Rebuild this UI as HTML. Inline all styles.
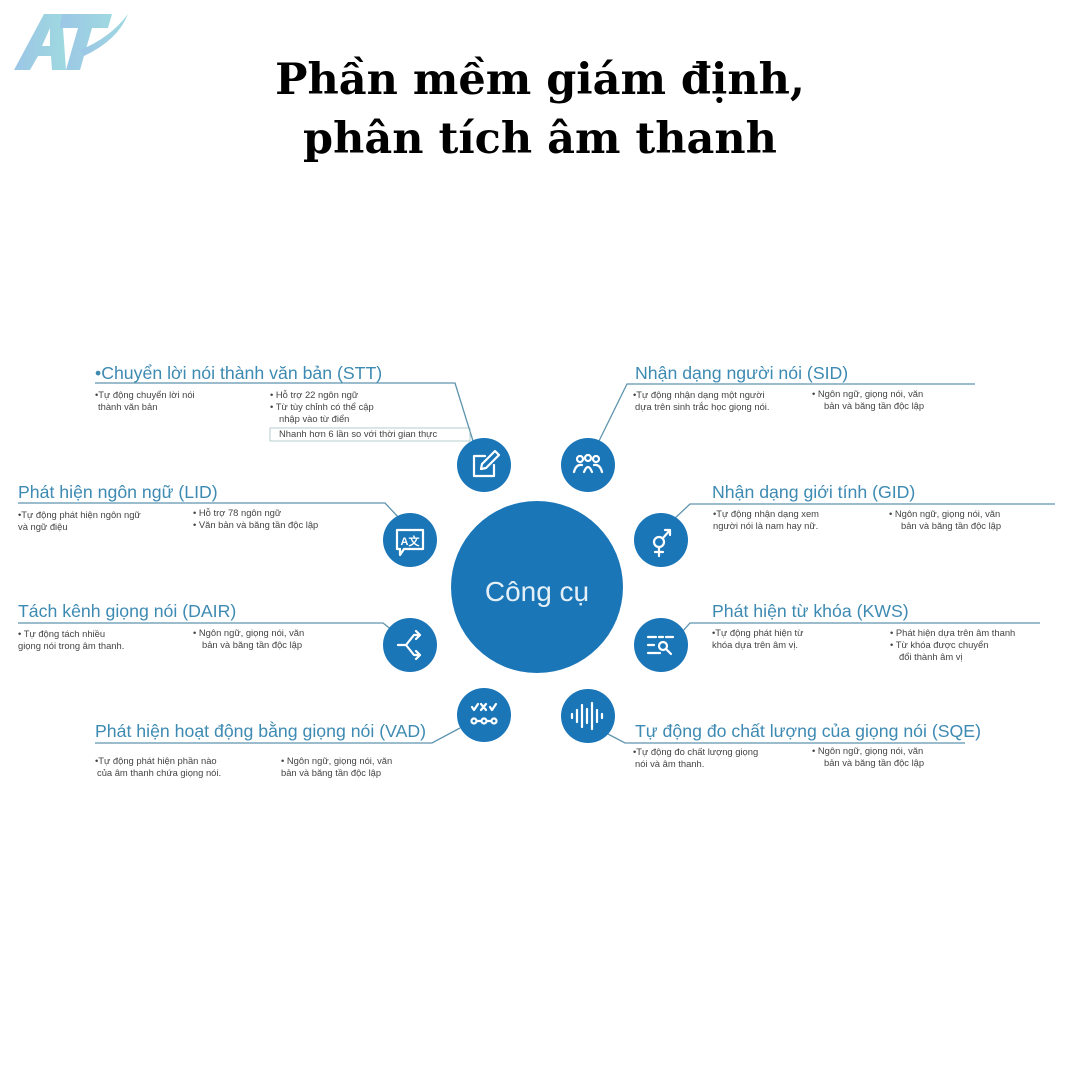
<!DOCTYPE html>
<html><head><meta charset="utf-8"><style>
html,body{margin:0;padding:0;background:#fff;}
svg{display:block}
.t{font-family:"Liberation Sans",sans-serif;fill:#3d8ab3;font-size:17.7px}
.s{font-family:"Liberation Sans",sans-serif;fill:#444;font-size:9.4px}
.h{font-family:"DejaVu Serif","Liberation Serif",serif;font-weight:bold;font-size:43px;fill:#000}
.ln{stroke:#5d94ad;stroke-width:1.3;fill:none}
.ic{stroke:#fff;stroke-width:2.2;fill:none;stroke-linecap:round;stroke-linejoin:round}
</style></head><body>
<svg width="1080" height="1080" viewBox="0 0 1080 1080" xmlns="http://www.w3.org/2000/svg">
<defs><linearGradient id="g" x1="0" x2="1"><stop offset="0" stop-color="#9cc6e6"/><stop offset="1" stop-color="#9ed9e0"/></linearGradient></defs>
<!-- logo -->
<polygon points="14,70 44,14 62,14 66,70 52,70 51,56 38,56 30,70" fill="url(#g)"/>
<polygon points="42,46 50,46 50,28" fill="#fff"/>
<polygon points="62,14 112,14 108,28 92,28 80,70 66,70 78,28 60,28" fill="url(#g)"/>
<path d="M80,50 Q110,38 128,14 Q118,40 84,56 Z" fill="url(#g)"/>
<!-- title -->
<text class="h" x="540" y="94" text-anchor="middle">Phần mềm giám định,</text>
<text class="h" x="540" y="153" text-anchor="middle">phân tích âm thanh</text>

<!-- connectors -->
<path class="ln" d="M95,383 L455,383 L473,441"/>
<path class="ln" d="M18,503 L385,503 L400,519"/>
<path class="ln" d="M18,623 L383,623 L392,630"/>
<path class="ln" d="M95,743 L432,743 L460,728"/>
<path class="ln" d="M975,384 L627,384 L598,443"/>
<path class="ln" d="M1055,504 L690,504 L672,521"/>
<path class="ln" d="M1040,623 L690,623 L682,632"/>
<path class="ln" d="M965,743 L625,743 L606,733"/>
<rect x="270" y="428" width="200" height="13" fill="none" stroke="#8aa" stroke-width="0.6"/>

<!-- circles -->
<circle cx="537" cy="587" r="86" fill="#1b76b8"/>
<text x="537" y="601" text-anchor="middle" font-family="Liberation Sans,sans-serif" font-size="28" fill="#e4f0f8">Công cụ</text>
<g fill="#1b76b8">
<circle cx="484" cy="465" r="27"/><circle cx="588" cy="465" r="27"/>
<circle cx="410" cy="540" r="27"/><circle cx="661" cy="540" r="27"/>
<circle cx="410" cy="645" r="27"/><circle cx="661" cy="645" r="27"/>
<circle cx="484" cy="715" r="27"/><circle cx="588" cy="716" r="27"/>
</g>
<!-- icons -->
<path class="ic" d="M485,456 L474,456 L474,476 L494,476 L494,465"/><path class="ic" d="M481,469 L482,464 L495,451 L499,455 L486,468 Z"/>
<g class="ic" stroke-width="1.8"><circle cx="580" cy="459" r="3"/><circle cx="588" cy="458" r="3"/><circle cx="596" cy="459" r="3"/><path d="M574,472 Q576,464 582,465 M584,472 Q588,462 592,472 M602,472 Q600,464 594,465"/></g>
<g class="ic" stroke-width="1.8"><path d="M397,530 L423,530 L423,549 L404,549 L400,555 L400,549 L397,549 Z"/></g>
<text x="410" y="545" text-anchor="middle" font-family="Liberation Sans,sans-serif" font-size="11" font-weight="bold" fill="#fff">A文</text>
<g class="ic" stroke-width="2"><circle cx="659" cy="542" r="5"/><path d="M659,547 L659,556 M655,552 L663,552 M663,538 L670,530 M665,530 L670,530 L670,535"/></g>
<g class="ic"><path d="M398,645 L406,645 L414,635 L420,635 M406,645 L414,655 L420,655 M416,631 L420,635 L416,639 M416,651 L420,655 L416,659"/></g>
<g class="ic" stroke-width="1.6"><path d="M648,637 L656,637 M659,637 L663,637 M666,637 L673,637 M648,645 L654,645 M648,653 L660,653"/><circle cx="663" cy="646" r="4"/><path d="M666,649 L671,654"/></g>
<g class="ic" stroke-width="1.6"><path d="M472,707 L474,710 L478,704 M481,704 L486,710 M486,704 L481,710 M490,707 L492,710 L496,704"/><circle cx="474" cy="721" r="2.5"/><circle cx="484" cy="721" r="2.5"/><circle cx="494" cy="721" r="2.5"/><path d="M476.5,721 L481.5,721 M486.5,721 L491.5,721"/></g>
<g class="ic" stroke-width="2"><path d="M572,714 L572,718 M577,710 L577,722 M582,705 L582,727 M587,709 L587,723 M592,703 L592,729 M597,710 L597,722 M602,714 L602,718"/></g>

<!-- titles -->
<text class="t" x="95" y="379">•Chuyển lời nói thành văn bản (STT)</text>
<text class="t" x="18" y="498">Phát hiện ngôn ngữ (LID)</text>
<text class="t" x="18" y="617">Tách kênh giọng nói (DAIR)</text>
<text class="t" x="95" y="737">Phát hiện hoạt động bằng giọng nói (VAD)</text>
<text class="t" x="635" y="379">Nhận dạng người nói (SID)</text>
<text class="t" x="712" y="498">Nhận dạng giới tính (GID)</text>
<text class="t" x="712" y="617">Phát hiện từ khóa (KWS)</text>
<text class="t" x="635" y="737">Tự động đo chất lượng của giọng nói (SQE)</text>

<!-- small texts -->
<g class="s">
<text x="95" y="398">•Tự động chuyển lời nói</text><text x="98" y="410">thành văn bản</text>
<text x="270" y="398">•  Hỗ trợ 22 ngôn ngữ</text><text x="270" y="410">•  Từ tùy chỉnh có thể cập</text><text x="279" y="422">nhập vào từ điển</text><text x="279" y="437">Nhanh hơn 6 lần so với thời gian thực</text>
<text x="18" y="518">•Tự động phát hiện ngôn ngữ</text><text x="18" y="530">và ngữ điệu</text>
<text x="193" y="516">•  Hỗ trợ 78 ngôn ngữ</text><text x="193" y="528">•  Văn bản và băng tần độc lập</text>
<text x="18" y="637">• Tự động tách nhiều</text><text x="18" y="649">giọng nói trong âm thanh.</text>
<text x="193" y="636">•  Ngôn ngữ, giọng nói, văn</text><text x="202" y="648">bản và băng tần độc lập</text>
<text x="95" y="764">•Tự động phát hiện phần nào</text><text x="97" y="776">của âm thanh chứa giọng nói.</text>
<text x="281" y="764">• Ngôn ngữ, giọng nói, văn</text><text x="281" y="776">bản và băng tần độc lập</text>
<text x="633" y="398">•Tự động nhận dạng một người</text><text x="635" y="410">dựa trên sinh trắc học giọng nói.</text>
<text x="812" y="397">•  Ngôn ngữ, giọng nói, văn</text><text x="824" y="409">bản và băng tần độc lập</text>
<text x="713" y="517">•Tự động nhận dạng xem</text><text x="713" y="529">người nói là nam hay nữ.</text>
<text x="889" y="517">•  Ngôn ngữ, giọng nói, văn</text><text x="901" y="529">bản và băng tần độc lập</text>
<text x="712" y="636">•Tự động phát hiện từ</text><text x="712" y="648">khóa dựa trên âm vị.</text>
<text x="890" y="636">•  Phát hiện dựa trên âm thanh</text><text x="890" y="648">•  Từ khóa được chuyển</text><text x="899" y="660">đổi thành âm vị</text>
<text x="633" y="755">•Tự động đo chất lượng giọng</text><text x="635" y="767">nói và âm thanh.</text>
<text x="812" y="754">•  Ngôn ngữ, giọng nói, văn</text><text x="824" y="766">bản và băng tần độc lập</text>
</g>
</svg>
</body></html>
